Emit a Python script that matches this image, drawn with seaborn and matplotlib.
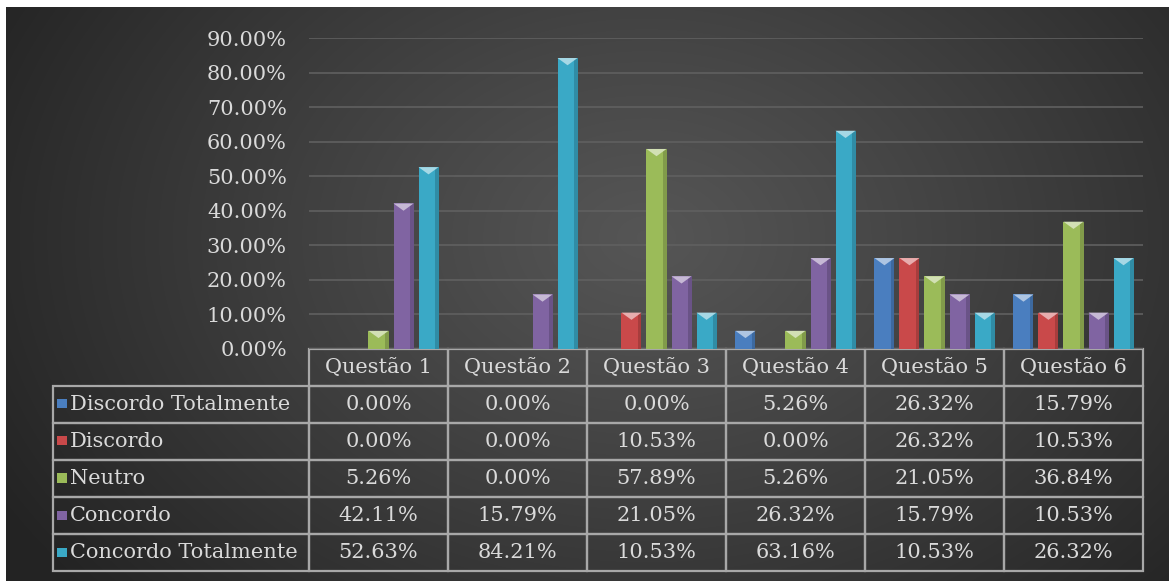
import numpy as np
import pandas as pd
import matplotlib
matplotlib.use("Agg")
import matplotlib.pyplot as plt
import seaborn as sns
from matplotlib.patches import Polygon
from matplotlib.ticker import FuncFormatter
from matplotlib.colors import to_rgb

# dados do gráfico
questoes = ['Questão 1', 'Questão 2', 'Questão 3', 'Questão 4', 'Questão 5', 'Questão 6']
respostas = ['Discordo Totalmente', 'Discordo', 'Neutro', 'Concordo', 'Concordo Totalmente']

discordo_totalmente = [0.00, 0.00, 0.00, 5.26, 26.32, 15.79]
discordo = [0.00, 0.00, 10.53, 0.00, 26.32, 10.53]
neutro = [5.26, 0.00, 57.89, 5.26, 21.05, 36.84]
concordo = [42.11, 15.79, 21.05, 26.32, 15.79, 10.53]
concordo_totalmente = [52.63, 84.21, 10.53, 63.16, 10.53, 26.32]

cores = ['#4a7ebf', '#c9494a', '#9bbb59', '#8064a2', '#3aa9c6']

valores = [discordo_totalmente, discordo, neutro, concordo, concordo_totalmente]

linhas = []
for resp, vals in zip(respostas, valores):
    for q, v in zip(questoes, vals):
        linhas.append({'questao': q, 'resposta': resp, 'valor': v})
df = pd.DataFrame(linhas)

sns.set_style("white")
plt.rcParams['font.family'] = ['DejaVu Serif']

texto = '#dadada'
linha = '#a8a8a8'

fig = plt.figure(figsize=(11.69, 5.81), dpi=100, facecolor='white')

# fundo escuro com gradiente radial
fundo = fig.add_axes([6 / 1169, 0, 1 - 6 / 1169, 1 - 7 / 581], zorder=-10)
yy, xx = np.mgrid[0:574, 0:1163]
dist = np.sqrt(((xx - 640) / 740.0) ** 2 + ((yy - 230) / 540.0) ** 2)
dist = np.clip(dist, 0, 1)
grad = 0.335 - 0.195 * dist ** 1.1
img = np.dstack([grad, grad, grad])
fundo.imshow(img, aspect='auto', extent=[0, 1, 0, 1], origin='upper')
fundo.axis('off')

ax = fig.add_axes([309 / 1169, 1 - 349 / 581, 834 / 1169, 311 / 581])
ax.set_facecolor('none')

sns.barplot(data=df, x='questao', y='valor', hue='resposta', hue_order=respostas,
            order=questoes, palette=cores, width=0.9, gap=0.2, legend=False,
            ax=ax, saturation=1, zorder=3, linewidth=0, edgecolor='none')

# topo chanfrado e sombra lateral das barras
for p in ax.patches[:]:
    h = p.get_height()
    if h <= 0:
        p.set_visible(False)
        continue
    x0 = p.get_x()
    w = p.get_width()
    c = np.array(to_rgb(p.get_facecolor()))
    claro = c + (1 - c) * 0.55
    escuro = c * 0.72
    sombra = Polygon([[x0 + w * 0.82, 0], [x0 + w, 0], [x0 + w, h], [x0 + w * 0.82, h]],
                     closed=True, facecolor=escuro, edgecolor='none', alpha=0.6, zorder=4)
    ax.add_patch(sombra)
    d = min(2.1, h)
    tri = Polygon([[x0, h], [x0 + w, h], [x0 + w / 2, h - d]], closed=True,
                  facecolor=claro, edgecolor='none', zorder=5)
    ax.add_patch(tri)

ax.set_ylim(0, 90)
ax.set_yticks(np.arange(0, 91, 10))
ax.yaxis.set_major_formatter(FuncFormatter(lambda v, pos: f'{v:.2f}%'))
ax.tick_params(axis='y', length=0, pad=16, labelsize=15, labelcolor=texto)
ax.set_xticks([])
ax.set_xlabel('')
ax.set_ylabel('')
ax.grid(axis='y', color='#606060', linewidth=1.2, zorder=0)
for s in ax.spines.values():
    s.set_visible(False)

# tabela de dados
celulas = []
for resp, vals in zip(respostas, valores):
    celulas.append([resp] + [f'{v:.2f}%' for v in vals])

tab = ax.table(cellText=celulas, colLabels=[''] + questoes,
               colWidths=[256] + [139] * 6, cellLoc='center',
               bbox=[-256 / 834, -222 / 311, 1090 / 834, 222 / 311])
tab.auto_set_font_size(False)
tab.set_fontsize(15)
for (r, c), cell in tab.get_celld().items():
    cell.set_facecolor('none')
    cell.set_edgecolor(linha)
    cell.set_linewidth(1.6)
    cell.get_text().set_color(texto)
    if r == 0 and c == 0:
        cell.visible_edges = ''
    if c == 0 and r > 0:
        cell._loc = 'left'
        cell.PAD = 0.066
        cell.get_text().set_ha('left')

# marcadores da legenda
for i, cor in enumerate(cores):
    yc = (349 - (385 + 37.2 * i + 18.6)) / 311
    ax.scatter([(62 - 309) / 834], [yc], marker='s', s=45, color=cor,
               transform=ax.transAxes, clip_on=False, zorder=5,
               edgecolor='none')

ax.set_xlim(-0.5, len(questoes) - 0.5)
ax.set_ylim(0, 90)

fig.savefig('out.png', dpi=100, facecolor=fig.get_facecolor())
